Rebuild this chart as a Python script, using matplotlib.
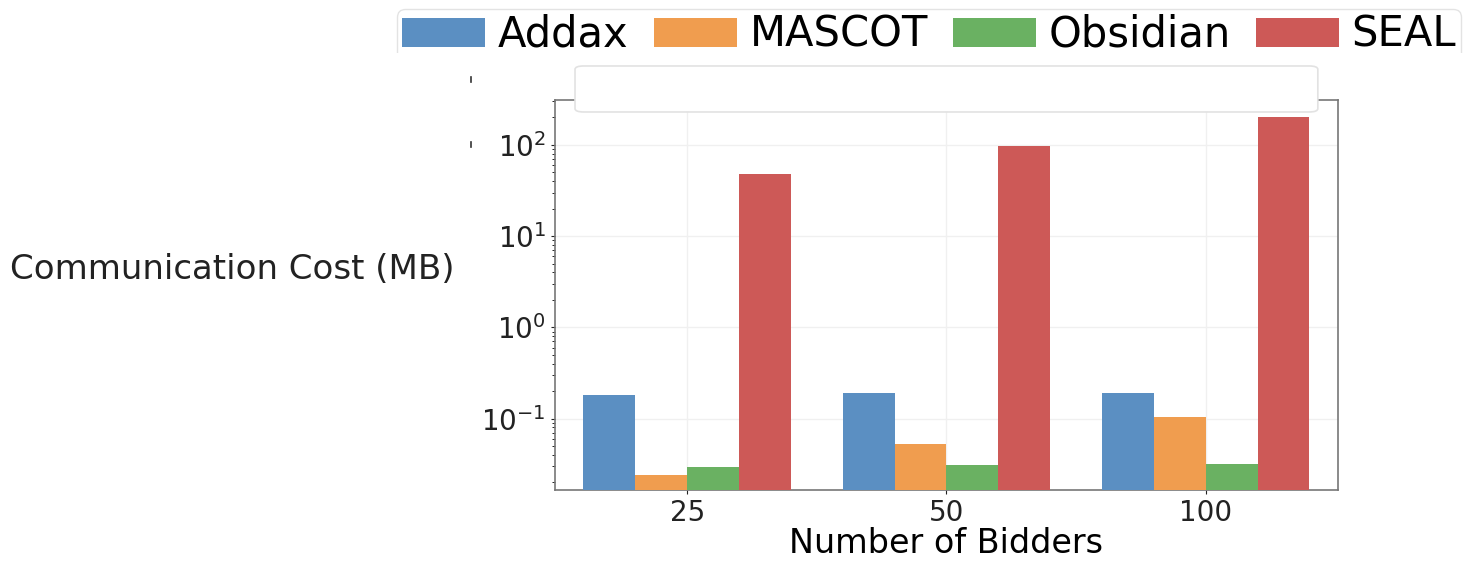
import numpy as np
import matplotlib
matplotlib.use("Agg")
import matplotlib.pyplot as plt
from matplotlib.patches import Rectangle, FancyBboxPatch
from matplotlib.lines import Line2D

# data (MB, log scale)
bidders = ["25", "50", "100"]
addax = [0.18, 0.19, 0.19]
mascot = [0.024, 0.052, 0.105]
obsidian = [0.0295, 0.031, 0.032]
seal = [48, 98, 200]

series = [("Addax", addax, "#5b8fc2"),
          ("MASCOT", mascot, "#f09d4f"),
          ("Obsidian", obsidian, "#6ab162"),
          ("SEAL", seal, "#cd5957")]

fig = plt.figure(figsize=(14.68, 5.61), dpi=100)
ax = fig.add_axes([0.378, 0.1266, 0.5334, 0.6951])

x = np.arange(len(bidders))
w = 0.2
for i, (name, vals, col) in enumerate(series):
    ax.bar(x + (i - 1.5) * w, vals, w, label=name, color=col, zorder=3)

ax.set_yscale("log")
ax.set_ylim(0.0165, 310)
ax.set_xlim(-0.51, 2.51)
ax.set_xticks(x)
ax.set_xticklabels(bidders)
ax.tick_params(axis="both", labelsize=20, colors="#222222", length=3)
ax.tick_params(axis="y", which="minor", length=2)
ax.grid(True, which="major", color="#f0f0f0", linewidth=1, zorder=0)
for s in ax.spines.values():
    s.set_color("#777777")
    s.set_linewidth(1.2)

ax.set_xlabel("Number of Bidders", fontsize=24, labelpad=0)
fig.text(0.0068, 0.519, "Communication Cost (MB)", fontsize=24.5,
         ha="left", va="center", color="#222222")

h, l = ax.get_legend_handles_labels()
leg = fig.legend(h, l, loc="upper left", bbox_to_anchor=(0.2705, 0.984),
                 ncol=4, fontsize=30, handletextpad=0.3, columnspacing=0.6,
                 borderpad=0.12, borderaxespad=0, frameon=True,
                 edgecolor="#dddddd")
leg.set_zorder(5)

# white strip that cuts the legend, and the empty rounded box below it
fig.patches.append(Rectangle((0.26, 0.826), 0.75, 0.0795, transform=fig.transFigure,
                             facecolor="white", edgecolor="none", zorder=6))
fig.patches.append(FancyBboxPatch((0.3917, 0.8004), 0.506, 0.082,
                                  boxstyle="round,pad=0,rounding_size=0.006",
                                  transform=fig.transFigure, facecolor="white",
                                  edgecolor="#e2e2e2", linewidth=1.2, zorder=7))
# small stray marks left of the axes
for yy in (0.858, 0.742):
    fig.add_artist(Line2D([0.3208, 0.3208], [yy - 0.004, yy + 0.004],
                          transform=fig.transFigure, color="#333333", lw=1.2,
                          zorder=8))

fig.savefig("out.png", dpi=100)
